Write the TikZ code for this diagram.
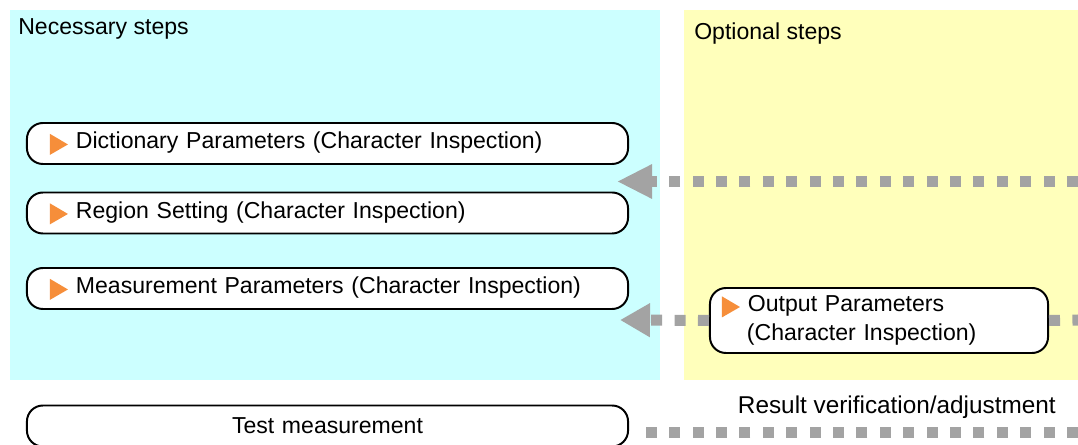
\documentclass[tikz,border=0pt]{standalone}
\usepackage{fontspec}
\setmainfont{Liberation Sans}
\usetikzlibrary{arrows.meta,positioning}
\usepackage{xcolor}

\definecolor{needblue}{RGB}{204,255,255}
\definecolor{optyellow}{RGB}{255,255,187}
\definecolor{markorange}{RGB}{246,142,58}
\definecolor{flowgray}{RGB}{163,163,163}

% orange marker in front of a step name
\newcommand{\stepmark}{\tikz[x=1cm, y=1cm, baseline=0pt, sharp corners]\fill[markorange] (0,-0.15) -- (0,0.375) -- (0.45,0.11) -- cycle;\hspace{0.2cm}}

\begin{document}
\begin{tikzpicture}[
    x=0.025cm, y=-0.025cm,
    stepbox/.style={rectangle, draw=black, line width=1.4pt, fill=white, rounded corners=0.4cm, minimum width=15.025cm, minimum height=1.025cm, inner xsep=0.575cm, text width=13.875cm, align=left, font=\fontsize{16.4}{19}\selectfont},
    panel/.style={font=\fontsize{16.4}{19}\selectfont, anchor=base west, inner sep=0pt},
    flow/.style={draw=flowgray, line width=0.275cm, dash pattern=on 0.275cm off 0.31cm}
]
\useasboundingbox (0,0) rectangle (1078,445);

% Panels
\fill[needblue] (10,10) rectangle (660,380);
\fill[optyellow] (684,10) rectangle (1078,380);
\node[panel] (need) at (18,35) {Necessary steps};
\node[panel] (opt) at (694,40) {Optional steps};

% Necessary steps
\node[stepbox] (dict) at (327.5,143.5) {\stepmark Dictionary Parameters (Character Inspection)};
\node[stepbox] (region) at (327.5,213) {\stepmark Region Setting (Character Inspection)};
\node[stepbox] (meas) at (327.5,288.5) {\stepmark Measurement Parameters (Character Inspection)};
\node[stepbox, align=center] (test) at (327.5,426) {Test measurement};

% Optional step
\node[stepbox, minimum width=8.45cm, minimum height=1.625cm, inner xsep=0.3cm, text width=7.85cm, font=\fontsize{16.4}{21}\selectfont] (outp) at (879,320.5)
    {\stepmark Output Parameters\\ \hspace{0.625cm}(Character Inspection)};

\node[font=\fontsize{17.3}{19}\selectfont, anchor=base east, inner sep=0pt] (verify) at (1056,413) {Result verification/adjustment};

% Connectors
\coordinate (in1) at (1078,181.5);
\coordinate (tip1) at (617,181.5);
\coordinate (tip2) at (620,320);
\coordinate (out2) at (1078,320);
\coordinate (out3) at (1078,432);

\draw[flow, -{Triangle[length=0.875cm, width=0.8cm]}] (in1) -- (tip1);
\draw[flow, -{Triangle[length=0.75cm, width=0.8cm]}] (outp.west) -- (tip2);
\draw[flow] (outp.east) -- (out2);
\draw[flow] (out3) -- ([xshift=0.2cm]out3 -| test.east);

\end{tikzpicture}
\end{document}
